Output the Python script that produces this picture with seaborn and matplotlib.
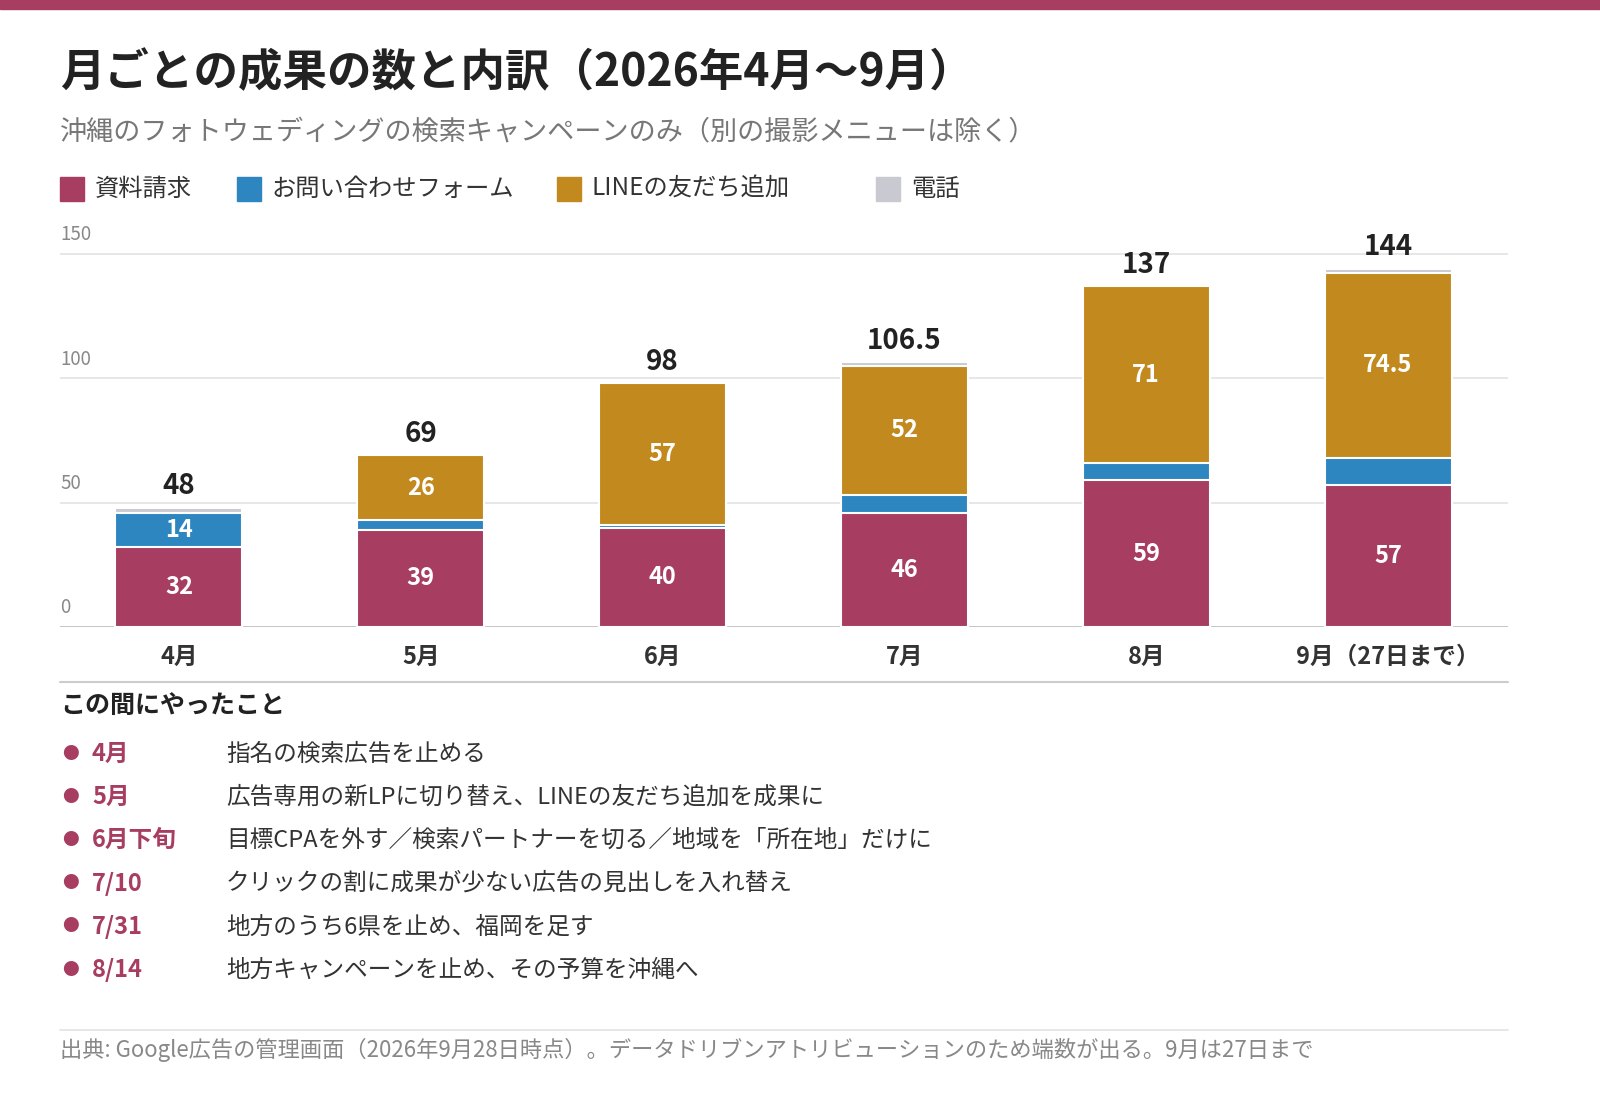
import matplotlib
matplotlib.use("Agg")
import matplotlib.pyplot as plt
import seaborn as sns
import pandas as pd
import numpy as np
from matplotlib.patches import Rectangle
from matplotlib.lines import Line2D

months = ["4月", "5月", "6月", "7月", "8月", "9月（27日まで）"]
shiryo = [32, 39, 40, 46, 59, 57]
form = [14, 4, 1, 7, 7, 11]
line_add = [0, 26, 57, 52, 71, 74.5]
phone = [2, 0, 0, 1.5, 0, 1.5]
totals = ["48", "69", "98", "106.5", "137", "144"]
series_names = ["資料請求", "お問い合わせフォーム", "LINEの友だち追加", "電話"]
colors = ["#A83D62", "#2E86C1", "#C28A1E", "#C9C9D1"]
yticks = [0, 50, 100, 150]
actions_when = ["4月", "5月", "6月下旬", "7/10", "7/31", "8/14"]
actions_what = ["指名の検索広告を止める",
                "広告専用の新LPに切り替え、LINEの友だち追加を成果に",
                "目標CPAを外す／検索パートナーを切る／地域を「所在地」だけに",
                "クリックの割に成果が少ない広告の見出しを入れ替え",
                "地方のうち6県を止め、福岡を足す",
                "地方キャンペーンを止め、その予算を沖縄へ"]

sns.set_theme(style="white")
plt.rcParams['font.family'] = ['Noto Sans CJK JP', 'DejaVu Sans']

W, H = 1600, 1120
fig = plt.figure(figsize=(16, 11.2), dpi=100)
def fx(px): return px / W
def fy(py): return 1 - py / H

fig.patches.append(Rectangle((0, fy(9)), 1, 9 / H, transform=fig.transFigure, color="#A83D62"))

ax = fig.add_axes([fx(60), fy(627), fx(1508) - fx(60), (627 - 229) / H])
series = [shiryo, form, line_add, phone]
cum = np.cumsum(np.array(series, dtype=float), axis=0)
for i in range(3, -1, -1):
    d = pd.DataFrame({"month": months, "val": cum[i]})
    sns.barplot(data=d, x="month", y="val", color=colors[i], width=0.525,
                edgecolor="white", linewidth=1.5, saturation=1, ax=ax, zorder=3)
ax.set_xlim(-0.492, 5.496)
ax.set_ylim(0, 160)
ax.set_xlabel(""); ax.set_ylabel("")
ax.set_yticks([]); ax.set_xticks([])
for s in ax.spines.values():
    s.set_visible(False)
for t in yticks:
    ax.axhline(t, color="#BBBBBB" if t == 0 else "#E3E3E3", lw=1.2, zorder=1)
    ax.text(-0.492, t + 3.5, str(t), fontsize=13.5, color="#888888", va="bottom", ha="left")

for j in range(len(months)):
    base = 0
    for i, vals in enumerate(series):
        v = vals[j]
        if v >= 12 and i < 3:
            ax.text(j, base + v / 2, f"{v:g}", ha="center", va="center", color="white",
                    fontsize=17, fontweight="bold", zorder=5)
        base += v
    ax.text(j, cum[3][j] + 3, totals[j], ha="center", va="bottom", fontsize=20,
            fontweight="bold", color="#222222", zorder=5)
    fig.text(fx(179 + j * 241.8), fy(657), months[j], ha="center", va="center",
             fontsize=17, fontweight="bold", color="#333333")

fig.text(fx(60), fy(73), "月ごとの成果の数と内訳（2026年4月〜9月）", fontsize=32,
         fontweight="bold", color="#222222", va="center")
fig.text(fx(60), fy(133), "沖縄のフォトウェディングの検索キャンペーンのみ（別の撮影メニューは除く）",
         fontsize=19.5, color="#777777", va="center")
leg_x = [60, 237, 557, 876]
for x, n, c in zip(leg_x, series_names, colors):
    fig.patches.append(Rectangle((fx(x), fy(201)), 24 / W, 24 / H, transform=fig.transFigure,
                                 color=c))
    fig.text(fx(x + 35), fy(189), n, fontsize=17.5, color="#333333", va="center")

fig.lines.append(Line2D([fx(60), fx(1508)], [fy(682), fy(682)], transform=fig.transFigure,
                        color="#CCCCCC", lw=1.5))
fig.text(fx(60), fy(706), "この間にやったこと", fontsize=18, fontweight="bold",
         color="#222222", va="center")
for k, (w, t) in enumerate(zip(actions_when, actions_what)):
    y = 754 + k * 43.2
    fig.text(fx(70), fy(y), "●", fontsize=12, color="#A83D62", va="center", ha="center")
    fig.text(fx(92), fy(y), w, fontsize=17, fontweight="bold", color="#A83D62", va="center")
    fig.text(fx(226), fy(y), t, fontsize=17, color="#333333", va="center")

fig.lines.append(Line2D([fx(60), fx(1508)], [fy(1030), fy(1030)], transform=fig.transFigure,
                        color="#E3E3E3", lw=1.2))
fig.text(fx(60), fy(1050), "出典: Google広告の管理画面（2026年9月28日時点）。データドリブンアトリビューションのため端数が出る。9月は27日まで",
         fontsize=16, color="#888888", va="center")

fig.savefig("out.png", dpi=100, facecolor="white")
